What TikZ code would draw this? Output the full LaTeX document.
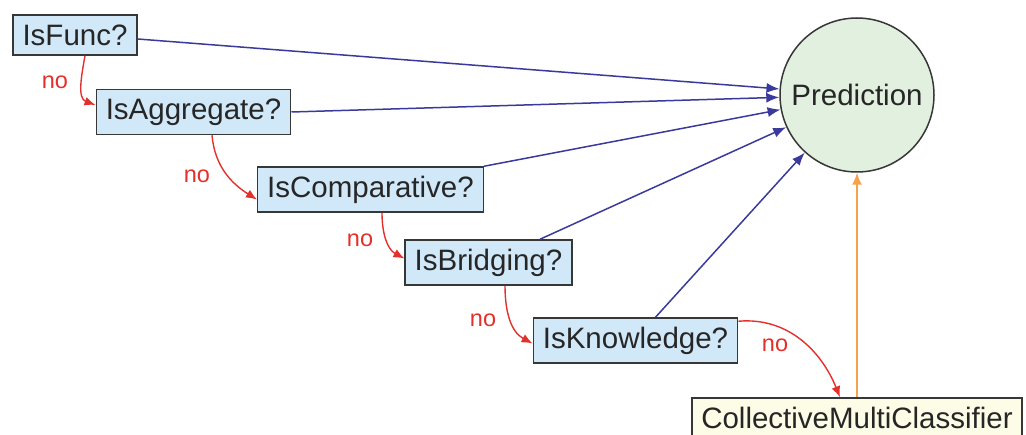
\documentclass[tikz,border=0pt]{standalone}
\usepackage{fontspec}
\setmainfont{Liberation Sans}
\usetikzlibrary{arrows.meta}
\definecolor{qfill}{RGB}{208,232,247}
\definecolor{pfill}{RGB}{226,240,223}
\definecolor{cfill}{RGB}{253,252,230}
\definecolor{edgeblue}{RGB}{58,58,156}
\definecolor{nored}{RGB}{228,48,44}
\definecolor{feedorange}{RGB}{245,162,74}
\definecolor{boxline}{RGB}{55,55,55}
\tikzset{
  x=1pt, y=1pt,
  question/.style={draw=boxline, line width=1.5pt, fill=qfill, inner xsep=9.5pt,
    inner ysep=0pt, minimum height=45pt, font=\fontsize{29.5}{34}\selectfont, text=black!85},
  predict/.style={circle, draw=boxline, line width=1.5pt, fill=pfill, minimum size=154pt,
    inner sep=0pt, font=\fontsize{29.5}{34}\selectfont, text=black!85},
  classifier/.style={question, fill=cfill},
  yes/.style={edgeblue, line width=1.5pt, -{Latex[length=13pt,width=10pt]}},
  noedge/.style={nored, line width=1.4pt, -{Latex[length=11pt,width=9pt]}},
  nolabel/.style={text=nored, font=\fontsize{23.5}{26}\selectfont},
  feed/.style={feedorange, line width=1.6pt, -{Latex[length=12pt,width=10pt]}}
}
\begin{document}
\begin{tikzpicture}
\useasboundingbox (0,0) rectangle (1026,434);
\begin{scope}
\clip (0,0) rectangle (1026,434);
% decision cascade
\node[question, minimum height=40pt] (func) at (75,399) {IsFunc?};
\node[question] (agg) at (193.5,322) {IsAggregate?};
\node[question] (comp) at (370.5,244.5) {IsComparative?};
\node[question] (bridge) at (488.5,171.5) {IsBridging?};
\node[question] (know) at (635.5,93.5) {IsKnowledge?};
\node[classifier, minimum height=40pt] (multi) at (857,16) {CollectiveMultiClassifier};
\node[predict] (pred) at (857,339) {Prediction};

% positive answers go straight to the prediction
\draw[yes] ([yshift=-4pt]func.east) -- (pred);
\draw[yes] (agg.east) -- (pred);
\draw[yes] (comp.north east) -- (pred);
\draw[yes] ([xshift=51.5pt]bridge.north) -- (pred);
\draw[yes] ([xshift=20pt]know.north) -- (pred);

% negative answers fall through to the next test
\draw[noedge] ([xshift=10pt]func.south) to[out=-100, in=160] ([yshift=7pt]agg.west);
\draw[noedge] ([xshift=18.5pt]agg.south) to[out=-85, in=148] ([yshift=-10pt]comp.west);
\draw[noedge] ([xshift=11.5pt]comp.south) to[out=-90, in=152] ([yshift=4pt]bridge.west);
\draw[noedge] ([xshift=16.5pt]bridge.south) to[out=-90, in=152] ([yshift=-3pt]know.west);
\draw[noedge] ([yshift=-4pt]know.north east) to[out=5, in=112] ([xshift=-17pt]multi.north);

\node[nolabel] (no1) at (55,352) {no};
\node[nolabel] (no2) at (197,258) {no};
\node[nolabel] (no3) at (360,194) {no};
\node[nolabel] (no4) at (483,114) {no};
\node[nolabel] (no5) at (775,89) {no};

% fallback classifier
\draw[feed] (multi.north) -- (pred.south);
\end{scope}
\end{tikzpicture}
\end{document}
